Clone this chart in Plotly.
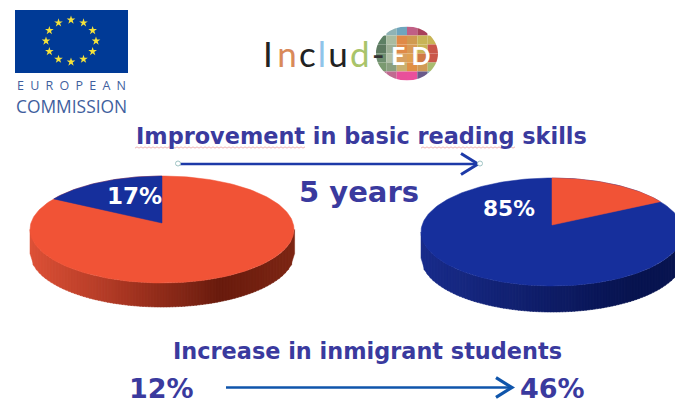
import numpy as np
import plotly.graph_objects as go

# ---- data ----
pie_labels = ["Before", "After"]
blue_share = [17, 85]
orange_share = [83, 15]
improvement_title = "Improvement in basic reading skills"
period_label = "5 years"
immigrant_title = "Increase in inmigrant students"
immigrant_values = ["12%", "46%"]

ORANGE = "#f15336"
BLUE = "#162f9c"
TEXT = "#3a3a9e"

fig = go.Figure()
shapes = []
annotations = []


def txt(x, y, s, size, color=TEXT, bold=True, family="DejaVu Sans", anchor="center"):
    annotations.append(dict(
        x=x, y=y, xref="x", yref="y", text=f"<b>{s}</b>" if bold else s, showarrow=False,
        xanchor=anchor, yanchor="middle", font=dict(size=size, color=color, family=family),
    ))


def lerp(c1, c2, t):
    a = np.array(c1, float)
    b = np.array(c2, float)
    v = a + (b - a) * t
    return f"rgb({int(v[0])},{int(v[1])},{int(v[2])})"


def pie3d(cx, cy, rx, ry, ax, ay, depth, start_share, top_color, wedge_color, side_stops, k):
    # extruded side, as vertical strips
    xs = np.linspace(cx - rx, cx + rx, 90)
    for i in range(len(xs) - 1):
        x0, x1 = xs[i], xs[i + 1]
        t = (0.5 * (x0 + x1) - (cx - rx)) / (2 * rx)
        for j in range(len(side_stops) - 1):
            if side_stops[j][0] <= t <= side_stops[j + 1][0]:
                u = (t - side_stops[j][0]) / (side_stops[j + 1][0] - side_stops[j][0])
                col = lerp(side_stops[j][1], side_stops[j + 1][1], u)
        yf = lambda x: cy + ry * np.sqrt(max(0, 1 - ((x - cx) / rx) ** 2))
        fig.add_trace(go.Scatter(
            x=[x0, x1 + 0.6, x1 + 0.6, x0, x0],
            y=[yf(x0), yf(x1), yf(x1) + depth, yf(x0) + depth, yf(x0)],
            mode="lines", fill="toself", fillcolor=col, line=dict(width=0.5, color=col),
            hoverinfo="skip", showlegend=False))
    # top ellipse
    th = np.linspace(0, 2 * np.pi, 240)
    fig.add_trace(go.Scatter(
        x=cx + rx * np.cos(th), y=cy + ry * np.sin(th), mode="lines", fill="toself",
        fillcolor=top_color, line=dict(width=0.5, color=top_color),
        hoverinfo="skip", showlegend=False))
    # wedge measured by its share
    sgn, share = start_share
    angs = np.linspace(0, share / 100 * 2 * np.pi, 60)
    wx, wy = [ax], [ay]
    for a in angs:
        dx = sgn * rx * np.sin(a)
        dy = -k * ry * np.cos(a)
        # intersect the ray from the apex with the ellipse
        A = (dx / rx) ** 2 + (dy / ry) ** 2
        B = 2 * ((ax - cx) * dx / rx ** 2 + (ay - cy) * dy / ry ** 2)
        C = ((ax - cx) / rx) ** 2 + ((ay - cy) / ry) ** 2 - 1
        s = (-B + np.sqrt(B * B - 4 * A * C)) / (2 * A)
        wx.append(ax + s * dx)
        wy.append(ay + s * dy)
    wx.append(ax)
    wy.append(ay)
    fig.add_trace(go.Scatter(
        x=wx, y=wy, mode="lines", fill="toself", fillcolor=wedge_color,
        line=dict(width=0.5, color=wedge_color), hoverinfo="skip", showlegend=False))


# left pie: blue wedge on the left of 12 o'clock
pie3d(162, 229.5, 132, 53.5, 162, 223, 24, (-1, blue_share[0]), ORANGE, BLUE,
      [(0, (222, 82, 56)), (0.35, (170, 55, 35)), (0.72, (106, 28, 14)), (1, (125, 38, 20))], 1.0)
# right pie: orange wedge on the right of 12 o'clock
pie3d(552, 232, 131, 54, 552, 225, 26, (1, orange_share[1]), BLUE, ORANGE,
      [(0, (26, 45, 140)), (0.4, (17, 32, 110)), (0.8, (8, 20, 80)), (1, (8, 20, 80))], 0.72)

txt(134.5, 196, "17%", 23, "#ffffff")
txt(509, 208, "85%", 21.7, "#ffffff")


# arrows
def arrow(x0, x1, y, color, width, head):
    fig.add_trace(go.Scatter(x=[x0, x1], y=[y, y], mode="lines", line=dict(color=color, width=width),
                             hoverinfo="skip", showlegend=False))
    fig.add_trace(go.Scatter(x=[x1 - head, x1, x1 - head], y=[y - head * 0.62, y, y + head * 0.62],
                             mode="lines", line=dict(color=color, width=width + 0.6),
                             hoverinfo="skip", showlegend=False))


arrow(180, 478, 164, "#1d3aa8", 2.4, 17)
arrow(226, 512, 387.5, "#0f55ab", 2.6, 16)
fig.add_trace(go.Scatter(x=[178, 480], y=[163.5, 163.5], mode="markers",
                         marker=dict(size=5, color="#ffffff", line=dict(color="#9fc4c4", width=1)),
                         hoverinfo="skip", showlegend=False))

# titles
txt(361, 136, improvement_title, 22.4)
txt(359, 192, period_label, 29)
txt(367, 350.5, immigrant_title, 22.4)
txt(161.5, 388.5, immigrant_values[0], 27)
txt(552.5, 388.5, immigrant_values[1], 27)

# spell-check squiggles
for x0, x1 in [(135, 306), (421, 516)]:
    sx = np.arange(x0, x1 + 1, 2)
    sy = 147.5 + 0.6 * (-1.0) ** np.arange(len(sx))
    fig.add_trace(go.Scatter(x=sx, y=sy, mode="lines", line=dict(color="#e8a0a0", width=0.8),
                             hoverinfo="skip", showlegend=False))

# European Commission logo
shapes.append(dict(type="rect", x0=15, x1=128, y0=10, y1=73, fillcolor="#003a96", line=dict(width=0), layer="below"))
sa = np.arange(12) * np.pi / 6
fig.add_trace(go.Scatter(x=71 + 25 * np.cos(sa), y=41 + 21 * np.sin(sa), mode="markers",
                         marker=dict(symbol="star", size=6.5, color="#f5e23a", line=dict(width=0)),
                         hoverinfo="skip", showlegend=False))
txt(71.5, 85.5, "E\u2002U\u2002R\u2002O\u2002P\u2002E\u2002A\u2002N", 12.5, "#3f5f9e", bold=False, family="Open Sans")
txt(71.5, 105.5, "COMMISSION", 17.4, "#3f5f9e", bold=False, family="Open Sans")

# Includ-ED logo: mosaic disc
mosaic = [
    ["#ffffff", "#8fb3b5", "#6fa5bd", "#c05f85", "#a8405a", "#ffffff"],
    ["#5d8064", "#a9bca0", "#e08a48", "#d09a50", "#c8b455", "#c8b455"],
    ["#5d7a60", "#9db095", "#e08a48", "#d89a55", "#c8b455", "#c9564a"],
    ["#6f8f70", "#b0bfa5", "#d8a060", "#e0a050", "#d07a45", "#c9564a"],
    ["#7a9a70", "#8aa080", "#c8b070", "#e09045", "#d09a55", "#a9bc70"],
    ["#b0688a", "#c06a90", "#e8509a", "#ea4f9c", "#6a5a8a", "#70a8b0"],
]
lcx, lcy, lrx, lry = 407, 53.5, 31, 27
cell_w, cell_h = 2 * lrx / 6, 2 * lry / 6
for r, row in enumerate(mosaic):
    for c, col in enumerate(row):
        shapes.append(dict(type="rect", x0=lcx - lrx + c * cell_w, x1=lcx - lrx + (c + 1) * cell_w,
                           y0=lcy - lry + r * cell_h, y1=lcy - lry + (r + 1) * cell_h,
                           fillcolor=col, line=dict(width=0), layer="below"))
k = 0.5523
m_path = (f"M {lcx-lrx-1} {lcy-lry-1} H {lcx+lrx+1} V {lcy+lry+1} H {lcx-lrx-1} Z "
          f"M {lcx-lrx} {lcy} C {lcx-lrx} {lcy-k*lry} {lcx-k*lrx} {lcy-lry} {lcx} {lcy-lry} "
          f"C {lcx+k*lrx} {lcy-lry} {lcx+lrx} {lcy-k*lry} {lcx+lrx} {lcy} "
          f"C {lcx+lrx} {lcy+k*lry} {lcx+k*lrx} {lcy+lry} {lcx} {lcy+lry} "
          f"C {lcx-k*lrx} {lcy+lry} {lcx-lrx} {lcy+k*lry} {lcx-lrx} {lcy} Z")
shapes.append(dict(type="path", path=m_path, fillcolor="#ffffff", line=dict(width=0), layer="below"))

hair = "\u200a"
logo = (f'<span style="color:#222222">I{hair}{hair}</span><span style="color:#d98a5a">n{hair}</span>'
        f'<span style="color:#222222">c{hair}</span><span style="color:#8fc4ea">l{hair}</span>'
        f'<span style="color:#222222">u{hair}</span><span style="color:#a9c46a">d{hair}</span>'
        f'<span style="color:#333333">-</span>')
annotations.append(dict(x=261, y=53, xref="x", yref="y", text=logo, showarrow=False, xanchor="left",
                        yanchor="middle", font=dict(size=35, family="Lato")))
txt(410, 55, "E D", 25, "#ffffff", bold=True, family="Lato")

fig.update_layout(
    width=675, height=403, margin=dict(l=0, r=0, t=0, b=0), paper_bgcolor="#ffffff", plot_bgcolor="rgba(0,0,0,0)",
    showlegend=False, shapes=shapes, annotations=annotations,
    xaxis=dict(range=[0, 675], visible=False, fixedrange=True),
    yaxis=dict(range=[403, 0], visible=False, fixedrange=True),
)
fig.write_html("out.html", config={"displayModeBar": False},
               post_script="document.body.style.margin='0';document.documentElement.style.overflow='hidden';")
